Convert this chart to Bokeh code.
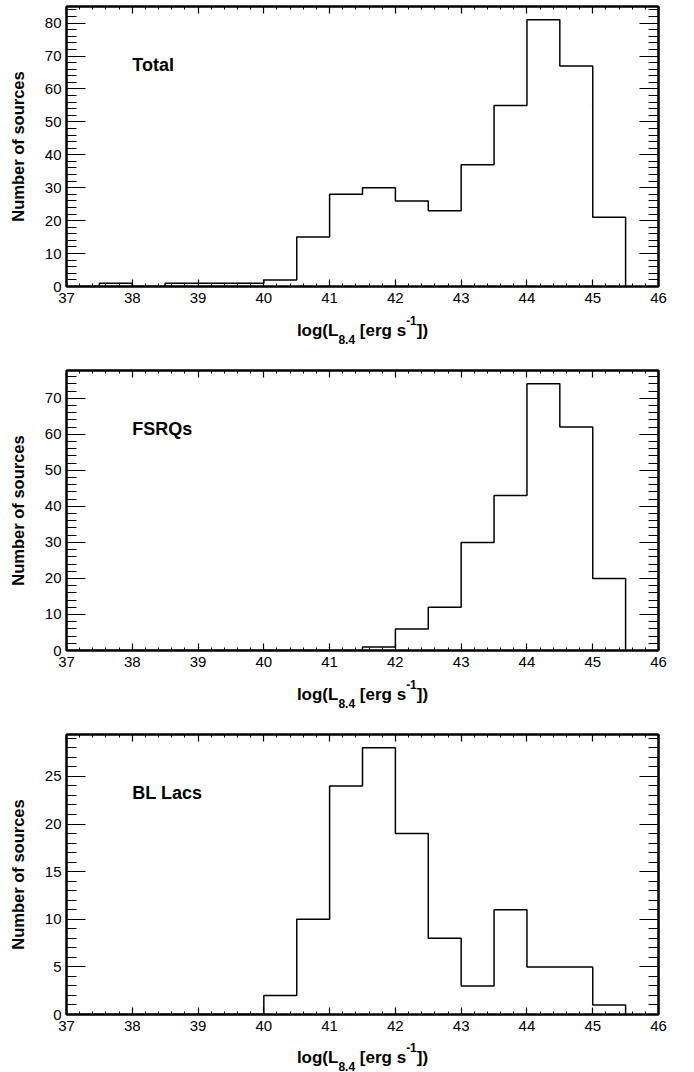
import numpy as np
from bokeh.plotting import figure
from bokeh.layouts import column
from bokeh.models import (Range1d, LinearAxis, SingleIntervalTicker, Label,
                          CustomJSTickFormatter)
from bokeh.core.properties import value
from bokeh.embed import file_html
from bokeh.resources import INLINE

# Histogram bins of log(L_8.4) in 0.5 dex steps
bin_edges = [37.0, 37.5, 38.0, 38.5, 39.0, 39.5, 40.0, 40.5, 41.0,
             41.5, 42.0, 42.5, 43.0, 43.5, 44.0, 44.5, 45.0, 45.5]

# Number of sources per bin
counts_total = [0, 1, 0, 1, 1, 1, 2, 15, 28, 30, 26, 23, 37, 55, 81, 67, 21]
counts_fsrq = [0, 0, 0, 0, 0, 0, 0, 0, 0, 1, 6, 12, 30, 43, 74, 62, 20]
counts_bllac = [0, 0, 0, 0, 0, 0, 2, 10, 24, 28, 19, 8, 3, 11, 5, 5, 1]

panel_names = ["Total", "FSRQs", "BL Lacs"]
y_major_steps = [10, 10, 5]
x_limits = (37, 46)

FONT = "Liberation Sans"
W = 694
BORDER_L, BORDER_R, BORDER_T, BORDER_B = 66, 36, 6, 24
FRAME_H = 280
FRAME_W = W - BORDER_L - BORDER_R
PANEL_H = BORDER_T + FRAME_H + BORDER_B
STRIP_H = 54


def outline(edges, counts):
    """Step outline of a histogram, closed down to zero at both ends."""
    xs, ys = [edges[0]], [0]
    for i, c in enumerate(counts):
        xs += [edges[i], edges[i + 1]]
        ys += [c, c]
    xs.append(edges[-1])
    ys.append(0)
    return xs, ys


def style_axis(ax, major_in, minor_in, labels=True):
    ax.axis_line_width = 2
    ax.axis_line_color = "black"
    ax.major_tick_in = major_in
    ax.major_tick_out = 0
    ax.minor_tick_in = minor_in
    ax.minor_tick_out = 0
    ax.major_tick_line_color = "black"
    ax.minor_tick_line_color = "black"
    ax.major_tick_line_width = 1.2
    ax.minor_tick_line_width = 1
    if labels:
        ax.major_label_text_font = FONT
        ax.major_label_text_font_size = "15px"
        ax.major_label_text_color = "black"
    else:
        ax.formatter = CustomJSTickFormatter(code="return ''")
        ax.major_label_text_font_size = "0px"
        ax.major_label_standoff = 0


def make_panel(counts, name, y_step):
    ymax = 1.05 * max(counts)
    p = figure(width=W, height=PANEL_H,
               x_range=Range1d(*x_limits), y_range=Range1d(0, ymax),
               output_backend="svg", toolbar_location=None,
               min_border_left=BORDER_L, min_border_right=BORDER_R,
               min_border_top=BORDER_T, min_border_bottom=BORDER_B)
    p.xgrid.visible = False
    p.ygrid.visible = False
    p.outline_line_color = "black"
    p.outline_line_width = 2
    p.background_fill_color = "white"
    p.border_fill_color = "white"

    p.xaxis.ticker = SingleIntervalTicker(interval=1, num_minor_ticks=5)
    style_axis(p.xaxis[0], 7, 3)
    p.xaxis.major_label_standoff = 6

    p.yaxis.ticker = SingleIntervalTicker(interval=y_step, num_minor_ticks=5)
    style_axis(p.yaxis[0], 19, 10)
    p.yaxis.major_label_standoff = 5
    p.yaxis.axis_label = "Number of sources"
    p.yaxis.axis_label_text_font = FONT
    p.yaxis.axis_label_text_font_style = "bold"
    p.yaxis.axis_label_text_font_size = "16.5px"
    p.yaxis.axis_label_text_color = "black"
    p.yaxis.axis_label_standoff = 15

    top = LinearAxis(ticker=SingleIntervalTicker(interval=1, num_minor_ticks=5))
    style_axis(top, 7, 3, labels=False)
    p.add_layout(top, "above")

    right = LinearAxis(ticker=SingleIntervalTicker(interval=y_step, num_minor_ticks=5))
    style_axis(right, 19, 10, labels=False)
    p.add_layout(right, "right")

    xs, ys = outline(bin_edges, counts)
    p.line(xs, ys, line_color="black", line_width=1.5)

    p.add_layout(Label(x=38.0, y=0.79 * ymax, text=name,
                       text_font=FONT, text_font_style="bold",
                       text_font_size="18px", text_color="black",
                       text_baseline="alphabetic", text_align="left"))
    return p


# Advance widths (per em) for Liberation Sans Bold
BOLD_W = {"l": 0.278, "o": 0.611, "g": 0.611, "(": 0.333, "L": 0.611,
          "8": 0.556, ".": 0.278, "4": 0.556, " ": 0.278, "[": 0.333,
          "e": 0.556, "r": 0.389, "s": 0.556, "-": 0.333, "1": 0.556,
          "]": 0.333, ")": 0.333}


def text_width(s, size):
    return sum(BOLD_W[c] for c in s) * size


def make_title_strip(height, baseline_from_top):
    """Strip under a panel holding log(L_8.4 [erg s^-1]) centred on the frame."""
    t = figure(width=W, height=height,
               x_range=Range1d(*x_limits), y_range=Range1d(0, height),
               output_backend="svg", toolbar_location=None,
               min_border_left=BORDER_L, min_border_right=BORDER_R,
               min_border_top=0, min_border_bottom=0,
               x_axis_location=None, y_axis_location=None)
    t.outline_line_color = None
    t.grid.visible = False
    t.background_fill_color = "white"
    t.border_fill_color = "white"

    main, small = 17, 12
    # (text, font size, baseline shift, gap before the piece in px)
    pieces = [("log(L", main, 0, 0), ("8.4", small, -8.5, 0),
              ("[erg s", main, 0, BOLD_W[" "] * main),
              ("-1", small, 10.5, 0), ("])", main, 0, 0)]
    px_per_x = FRAME_W / (x_limits[1] - x_limits[0])
    total = sum(text_width(s, sz) + gap for s, sz, _, gap in pieces)
    x_px = FRAME_W / 2 - total / 2
    base = height - baseline_from_top
    xs, ys, texts, sizes = [], [], [], []
    for s, sz, dy, gap in pieces:
        x_px += gap
        xs.append(x_limits[0] + x_px / px_per_x)
        ys.append(base + dy)
        texts.append(s)
        sizes.append(f"{sz}px")
        x_px += text_width(s, sz)
    t.text(x=xs, y=ys, text=texts, text_font_size=sizes,
           text_font=value(FONT), text_font_style="bold",
           text_color="black", text_align="left",
           text_baseline="alphabetic")
    return t


all_counts = [counts_total, counts_fsrq, counts_bllac]
children = []
for i, (cnt, name, step) in enumerate(zip(all_counts, panel_names, y_major_steps)):
    children.append(make_panel(cnt, name, step))
    if i < 2:
        children.append(make_title_strip(STRIP_H, 20))
    else:
        children.append(make_title_strip(1072 - 3 * PANEL_H - 2 * STRIP_H, 19))

layout = column(children, spacing=0)

with open("out.html", "w") as f:
    f.write(file_html(layout, INLINE))
